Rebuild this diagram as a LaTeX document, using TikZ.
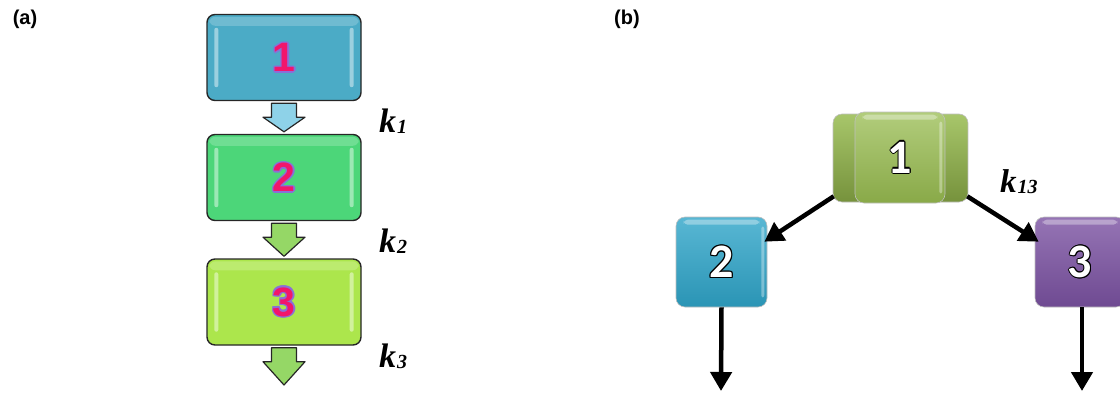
\documentclass[tikz,border=0pt]{standalone}
\usepackage{fontspec}
\setmainfont{Liberation Serif}
\newfontfamily\arialf{Liberation Sans}
\newfontfamily\calibf{Carlito}
\usetikzlibrary{calc,arrows.meta}

\definecolor{boxA}{HTML}{4BABC6}
\definecolor{boxB}{HTML}{4CD679}
\definecolor{boxC}{HTML}{ACE64C}
\definecolor{arrA}{HTML}{8ED2E8}
\definecolor{arrB}{HTML}{95D766}
\definecolor{numpink}{HTML}{F2156B}
\definecolor{glowc}{HTML}{8A6FD8}
\definecolor{oliveback}{HTML}{76923C}
\definecolor{olivefront}{HTML}{98BC50}
\definecolor{cyanbox}{HTML}{2FA5C9}
\definecolor{purplebox}{HTML}{7B52A2}

\newdimen\hd \newdimen\he
\newcommand\halo[4]{% #1 offset, #2 halo colour, #3 text colour, #4 text
  \hd=#1\relax \he=0.7\hd
  \setbox0=\hbox{#4}%
  \rlap{\kern\hd\textcolor{#2}{\copy0}}%
  \rlap{\kern-\hd\textcolor{#2}{\copy0}}%
  \rlap{\raisebox{\hd}{\textcolor{#2}{\copy0}}}%
  \rlap{\raisebox{-\hd}{\textcolor{#2}{\copy0}}}%
  \rlap{\kern\he\raisebox{\he}{\textcolor{#2}{\copy0}}}%
  \rlap{\kern-\he\raisebox{\he}{\textcolor{#2}{\copy0}}}%
  \rlap{\kern\he\raisebox{-\he}{\textcolor{#2}{\copy0}}}%
  \rlap{\kern-\he\raisebox{-\he}{\textcolor{#2}{\copy0}}}%
  \textcolor{#3}{\copy0}}

\tikzset{
  flowbox/.style={draw=black!85, line width=1.4, rounded corners=8,
    minimum width=154, minimum height=86, inner sep=0,
    font=\arialf\bfseries\fontsize{41}{41}\selectfont},
  gloss/.style={white, opacity=0.45, rounded corners=2},
  blockarr/.style={draw=black!85, line width=1.2, line join=round},
  klab/.style={anchor=base west, inner sep=0,
    font=\bfseries\itshape\fontsize{34}{34}\selectfont},
  panlab/.style={inner sep=0, font=\arialf\bfseries\fontsize{20}{20}\selectfont},
  cube/.style={draw=black!25, line width=0.6, rounded corners=9, inner sep=0,
    font=\calibf\bfseries\fontsize{48}{48}\selectfont},
  blackarr/.style={line width=4.5, -{Triangle[length=19,width=21]}},
}

\newcommand\blockarrow[3]{% from-point, to-point, fill colour
  \path let \p1=#1, \p2=#2 in
    [blockarr, fill=#3]
    (\x1-12.5,\y1-2) -- (\x1+12.5,\y1-2) -- (\x1+12.5,\y1-16)
    -- (\x1+21,\y1-16) -- (\x1,\y2+2) -- (\x1-21,\y1-16)
    -- (\x1-12.5,\y1-16) -- cycle;
}

\begin{document}
\begin{tikzpicture}[x=1pt,y=-1pt]
\useasboundingbox (0,0) rectangle (1120,394);

% ---------- panel (a) ----------
\node[panlab] (la) at (25,19) {(a)};

\node[flowbox, fill=boxA] (a1) at (284,57.5) {\halo{1.6pt}{glowc}{numpink}{1}};
\node[flowbox, fill=boxB] (a2) at (284,177.5) {\halo{1.6pt}{glowc}{numpink}{2}};
\node[flowbox, fill=boxC] (a3) at (284,302) {\halo{1.6pt}{glowc}{numpink}{3}};

\foreach \b in {a1,a2,a3}{
  \fill[gloss] ($(\b.north west)+(8,14)$) rectangle ($(\b.south west)+(12,-14)$);
  \fill[gloss] ($(\b.north east)+(-12,14)$) rectangle ($(\b.south east)+(-8,-14)$);
  \fill[white,opacity=0.2,rounded corners=6] ($(\b.north west)+(3,3)$) rectangle ($(\b.north east)+(-3,12)$);
}

\coordinate (aend) at (284,387);
\blockarrow{(a1.south)}{(a2.north)}{arrA}
\blockarrow{(a2.south)}{(a3.north)}{arrB}
\blockarrow{(a3.south)}{(aend)}{arrB}

\node[klab] (k1) at (379,132) {k\kern1pt\raisebox{-1pt}{\fontsize{20}{20}\selectfont 1}};
\node[klab] (k2) at (379,252) {k\kern1pt\raisebox{-1pt}{\fontsize{20}{20}\selectfont 2}};
\node[klab] (k3) at (379,367) {k\kern1pt\raisebox{-1pt}{\fontsize{20}{20}\selectfont 3}};

% ---------- panel (b) ----------
\node[panlab] (lb) at (627,19) {(b)};

\node[cube, minimum width=135, minimum height=88,
      top color=olivefront!85!white, bottom color=oliveback] (b1back) at (900.5,158) {};
\node[cube, minimum width=90, minimum height=91,
      top color=olivefront!75!white, bottom color=olivefront!90!black] (b1) at (900,157.5)
      {\halo{1.1pt}{black}{white}{1}};
\fill[white,opacity=0.35,rounded corners=2] ($(b1.north east)+(-6,10)$) rectangle ($(b1.south east)+(-3,-10)$);
\fill[white,opacity=0.35,rounded corners=4] ($(b1.north west)+(8,3)$) rectangle ($(b1.north east)+(-8,8)$);

\node[cube, minimum width=91, minimum height=90,
      top color=cyanbox!80!white, bottom color=cyanbox!90!black] (b2) at (721.5,262)
      {\halo{1.1pt}{black}{white}{2}};
\fill[white,opacity=0.35,rounded corners=4] ($(b2.north west)+(8,3)$) rectangle ($(b2.north east)+(-8,8)$);
\fill[white,opacity=0.35,rounded corners=2] ($(b2.north east)+(-6,10)$) rectangle ($(b2.south east)+(-3,-10)$);

\node[cube, minimum width=90, minimum height=90,
      top color=purplebox!80!white, bottom color=purplebox!90!black] (b3) at (1080,262)
      {\halo{1.1pt}{black}{white}{3}};
\fill[white,opacity=0.35,rounded corners=4] ($(b3.north west)+(8,3)$) rectangle ($(b3.north east)+(-8,8)$);

\coordinate (e2) at (721,391);
\coordinate (e3) at (1082,391);

\draw[blackarr] ($(b1back.south west)+(1,-6)$) -- ($(b2.north east)+(-3,25)$);
\draw[blackarr] ($(b1back.south east)+(-1,-6)$) -- ($(b3.north west)+(4,25)$);
\draw[blackarr] (b2.south) -- (e2);
\draw[blackarr] (b3.south -| e3) -- (e3);

\node[klab, font=\bfseries\itshape\fontsize{33}{33}\selectfont] (k13) at (1000,192)
  {k\kern1pt\raisebox{-1pt}{\fontsize{20}{20}\selectfont 13}};
\end{tikzpicture}
\end{document}
